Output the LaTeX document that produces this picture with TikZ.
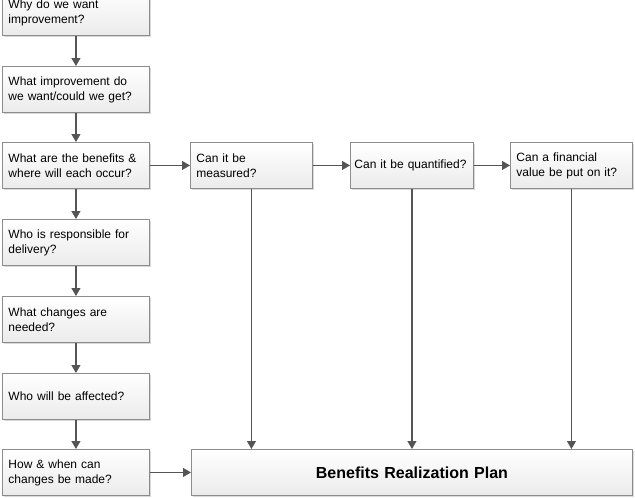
\documentclass[tikz,border=0pt]{standalone}
\usepackage{fontspec}
\setmainfont{Liberation Sans}
\usetikzlibrary{arrows.meta,shadows}
\definecolor{boxline}{HTML}{8C8C8C}
\definecolor{boxlow}{HTML}{EBEBEB}
\definecolor{arrowgray}{HTML}{555555}
\tikzset{
  stepbox/.style={draw=boxline,line width=0.9pt,top color=white,bottom color=boxlow,
    anchor=north west,minimum height=46pt,text width=135pt,inner xsep=6pt,
    align=left,font=\fontsize{12}{15}\selectfont,
    drop shadow={shadow xshift=1.2pt,shadow yshift=-1.2pt,fill=black,opacity=0.15}},
  planbox/.style={stepbox,text width=429pt,align=center,
    font=\fontsize{16}{19}\selectfont\bfseries},
  flow/.style={draw=arrowgray,line width=1.1pt,
    -{Triangle[length=8pt,width=9pt]}}
}
\begin{document}
\begin{tikzpicture}[x=1pt,y=1pt]
  \clip (0,0) rectangle (635,-498);
  % left column
  \node[stepbox] (why)   at (2,11)   {Why do we want\\improvement?};
  \node[stepbox] (what)  at (2,-66)  {What improvement do\\we want/could we get?};
  \node[stepbox] (bene)  at (2,-142) {What are the benefits \&\\where will each occur?};
  \node[stepbox] (who)   at (2,-219) {Who is responsible for\\delivery?};
  \node[stepbox] (chg)   at (2,-296) {What changes are\\needed?};
  \node[stepbox] (aff)   at (2,-373) {Who will be affected?};
  \node[stepbox] (how)   at (2,-449) {How \& when can\\changes be made?};
  % questions on the right
  \node[stepbox,text width=110pt] (meas)  at (190,-142) {Can it be\\measured?};
  \node[stepbox,text width=115pt,inner xsep=4pt] (quant) at (350,-142) {\mbox{Can it be quantified?}};
  \node[stepbox,text width=110pt] (fin)   at (510,-142) {Can a financial\\value be put on it?};
  \node[planbox] (plan) at (191,-449) {Benefits Realization Plan};
  % connectors
  \draw[flow] (why) -- (what);
  \draw[flow] (what) -- (bene);
  \draw[flow] (bene) -- (who);
  \draw[flow] (who) -- (chg);
  \draw[flow] (chg) -- (aff);
  \draw[flow] (aff) -- (how);
  \draw[flow] (bene) -- (meas);
  \draw[flow] (meas) -- (quant);
  \draw[flow] (quant) -- (fin);
  \draw[flow] (how) -- (plan);
  \draw[flow] (meas.south) -- (meas.south |- plan.north);
  \draw[flow] (quant.south) -- (quant.south |- plan.north);
  \draw[flow] (fin.south) -- (fin.south |- plan.north);
\end{tikzpicture}
\end{document}
